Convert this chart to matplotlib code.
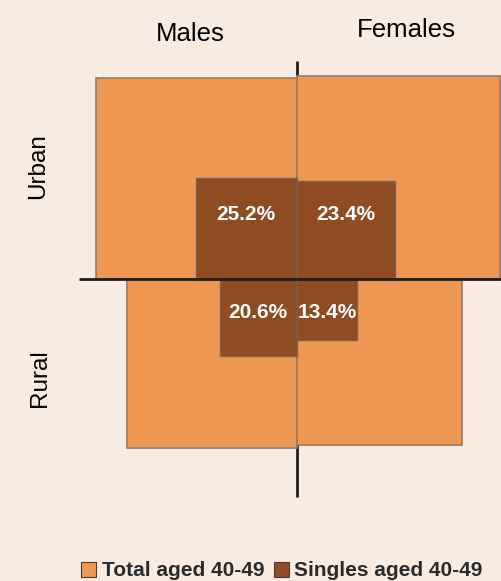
import numpy as np
import matplotlib.pyplot as plt
from matplotlib.patches import Rectangle

plt.rcParams["font.family"] = ["Liberation Sans", "DejaVu Sans"]

# ---- data ----
sexes = ["Males", "Females"]
areas = ["Urban", "Rural"]
# relative size of the 40-49 population (Urban males = 100), area of each box
total_index = {"Urban": [100.0, 102.0], "Rural": [70.7, 68.2]}
# share of singles among those aged 40-49 (%)
singles_pct = {"Urban": [25.2, 23.4], "Rural": [20.6, 13.4]}
legend_labels = ["Total aged 40-49", "Singles aged 40-49"]

col_total = "#EE9752"
col_single = "#8F4B22"
bg = "#F8EBE1"

W, H = 502, 581
fig = plt.figure(figsize=(W / 100, H / 100), dpi=100, facecolor=bg)
ax = fig.add_axes([0, 0, 1, 1])
ax.set_facecolor(bg)
ax.set_xlim(-296.5, W - 296.5)
ax.set_ylim(279 - H, 279)
ax.axis("off")

base_side = 201  # side (px) of a box with index 100

# centre cross
ax.plot([0, 0], [-218, 218], color="#1E1E1E", lw=2, zorder=1, solid_capstyle="butt")

for area in areas:
    up = area == "Urban"
    for i, sex in enumerate(sexes):
        side = base_side * np.sqrt(total_index[area][i] / 100)
        s_side = side * np.sqrt(singles_pct[area][i] / 100)
        sign = -1 if sex == "Males" else 1
        x0 = -side if sign < 0 else 0
        y0 = 0 if up else -side
        ax.add_patch(Rectangle((x0, y0), side, side, facecolor=col_total,
                               edgecolor="#9A7A62", lw=1.2, zorder=2))
        sx0 = -s_side if sign < 0 else 0
        sy0 = 0 if up else -s_side
        ax.add_patch(Rectangle((sx0, sy0), s_side, s_side, facecolor=col_single,
                               edgecolor="#7E6352", lw=1.0, zorder=3))
        ax.text(sign * s_side / 2, 64 if up else -33, f"{singles_pct[area][i]:.1f}%",
                color="white", fontsize=15, fontweight="bold",
                ha="center", va="center", zorder=5)

ax.plot([-218, 218], [0, 0], color="#1E1E1E", lw=2, zorder=4, solid_capstyle="butt")

# headers
fig.text(190 / W, 1 - 34 / H, sexes[0], fontsize=18.5, ha="center", va="center")
fig.text(406 / W, 1 - 30 / H, sexes[1], fontsize=18.5, ha="center", va="center")
fig.text(38 / W, 1 - 166 / H, areas[0], fontsize=17.5, rotation=90, ha="center", va="center")
fig.text(40 / W, 1 - 378 / H, areas[1], fontsize=17.5, rotation=90, ha="center", va="center")

# legend
handles = [Rectangle((0, 0), 1, 1, facecolor=col_total, edgecolor="#4A3A30", lw=0.8),
           Rectangle((0, 0), 1, 1, facecolor=col_single, edgecolor="#4A3A30", lw=0.8)]
fig.legend(handles, legend_labels, loc="center left", bbox_to_anchor=(81 / W, 1 - 571 / H),
           ncol=2, frameon=False, borderpad=0, borderaxespad=0,
           handlelength=0.72, handleheight=0.72, handletextpad=0.27, columnspacing=0.45,
           prop={"size": 15, "weight": "bold"}, labelcolor="#2A2A2A")

fig.savefig("out.png", dpi=100, facecolor=bg)
